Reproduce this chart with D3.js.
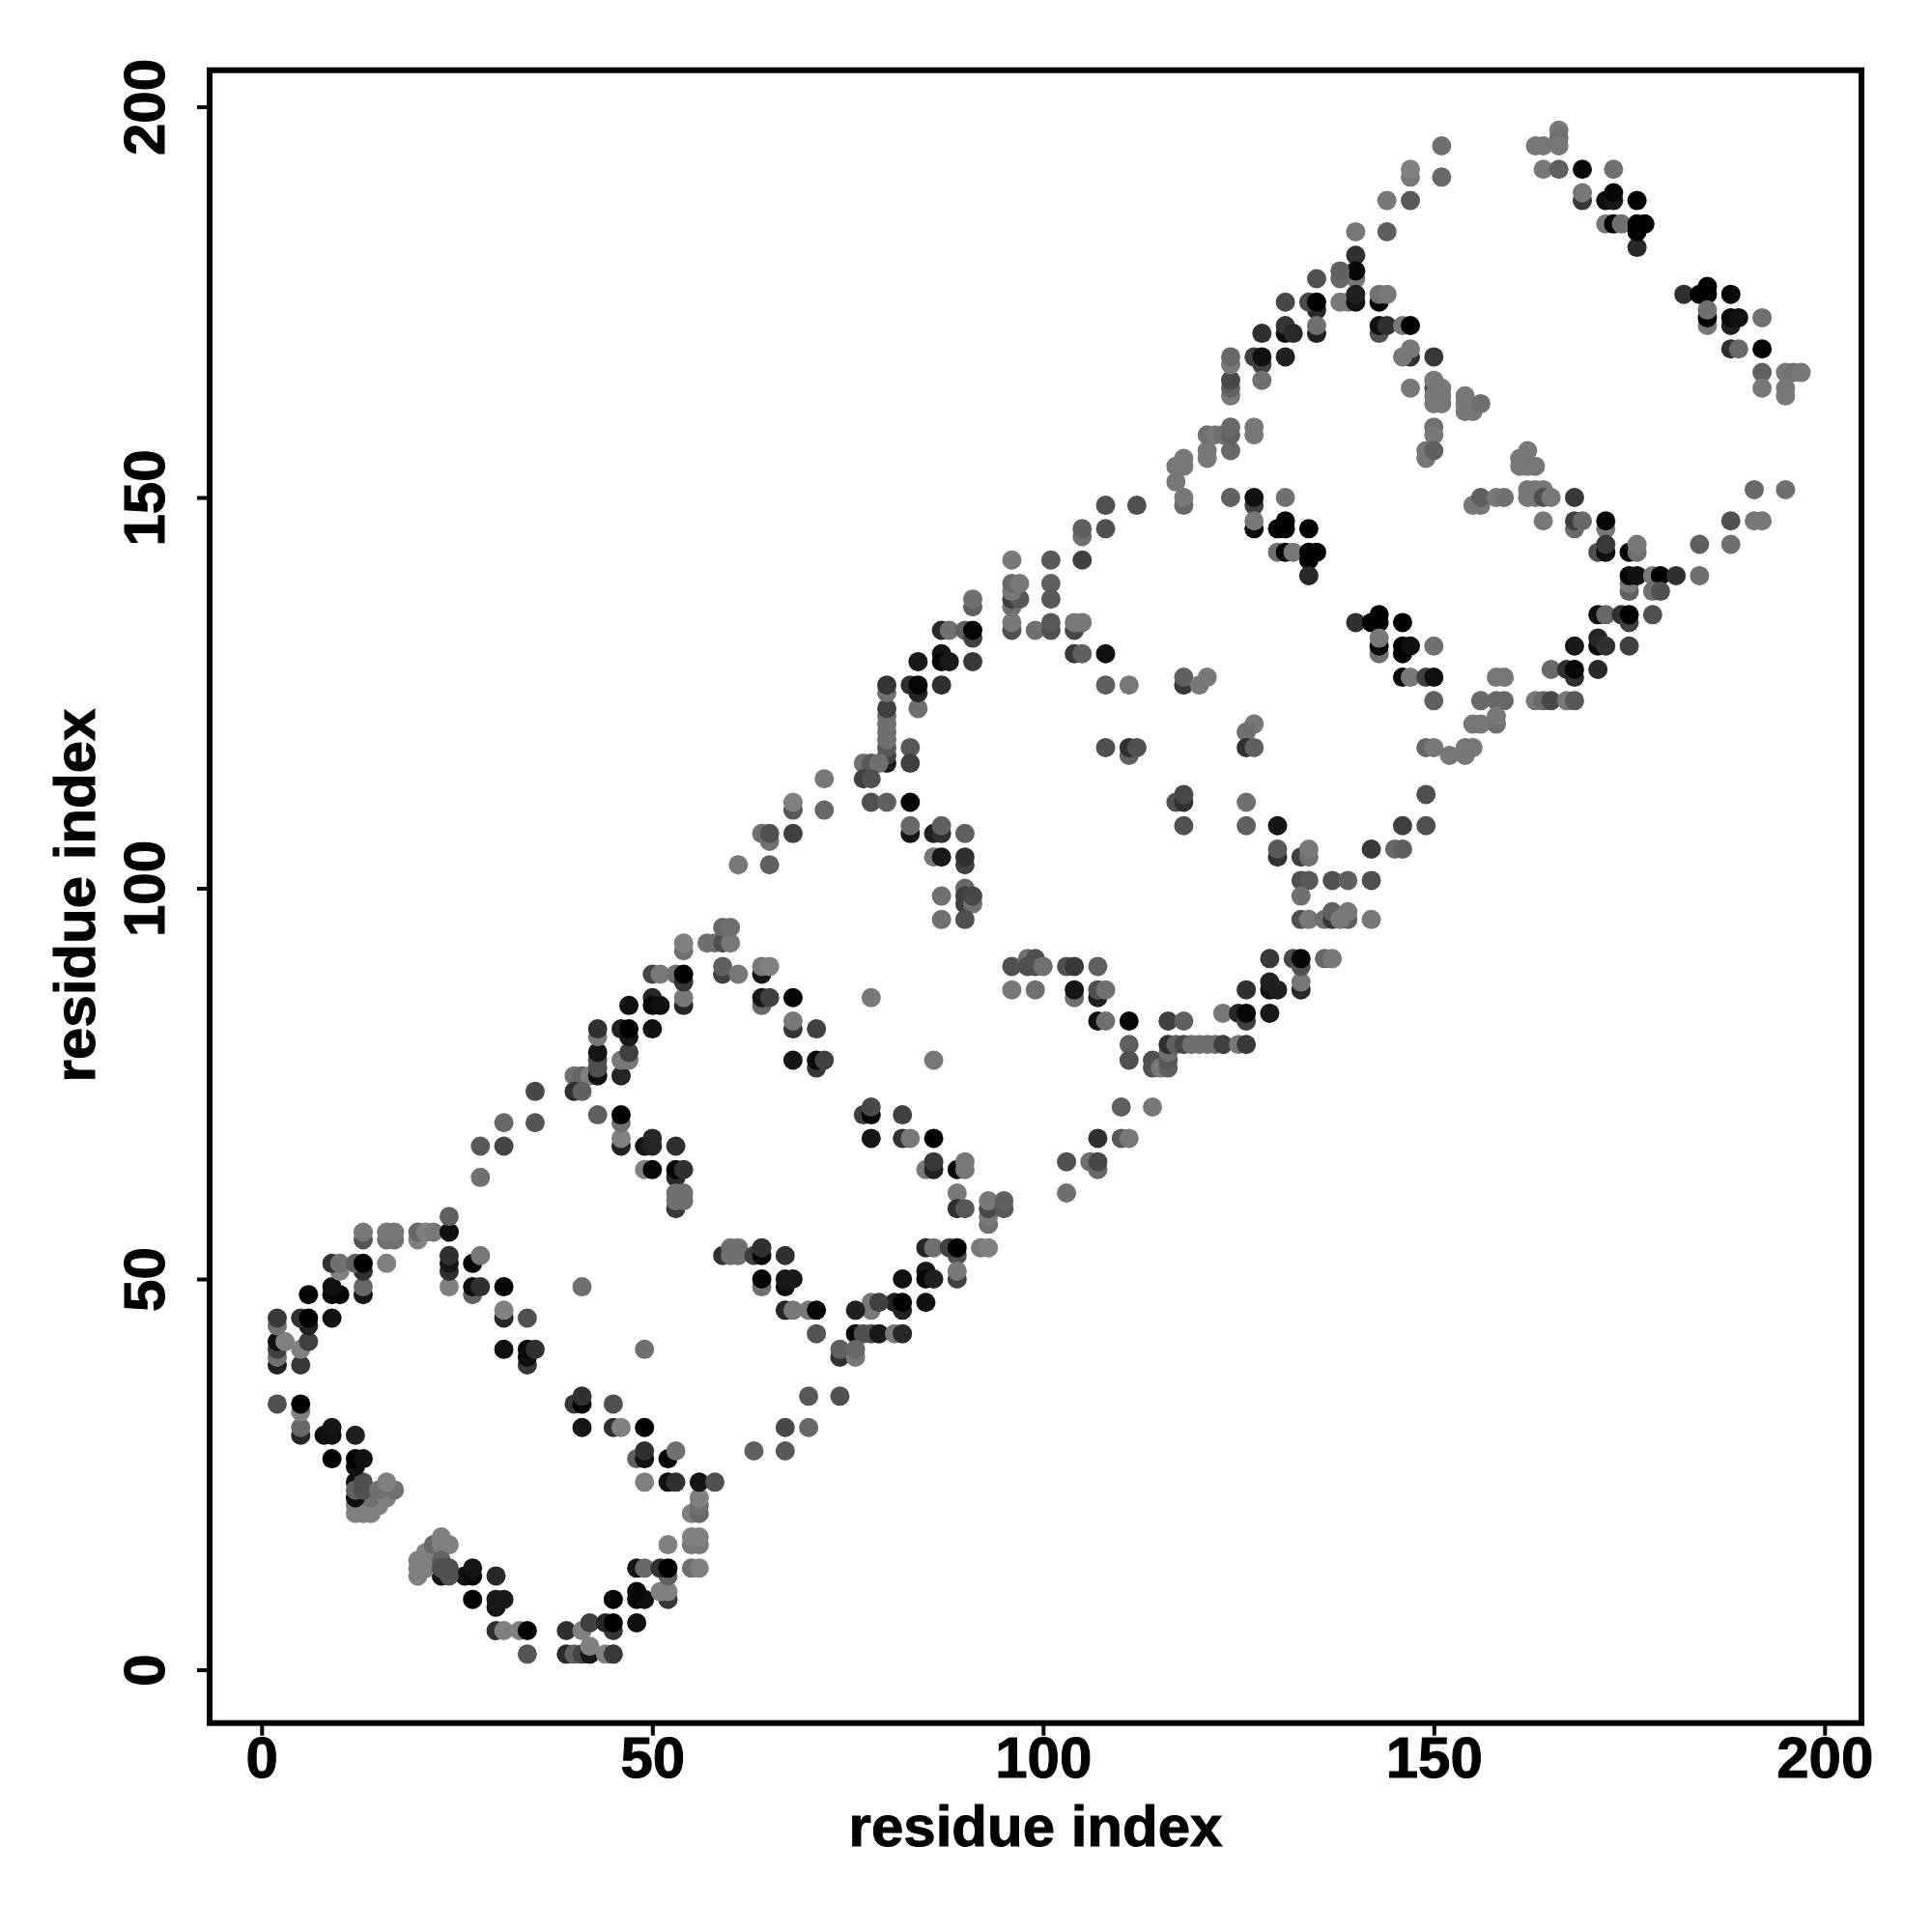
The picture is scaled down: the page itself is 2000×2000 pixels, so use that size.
<!DOCTYPE html>
<html><head><meta charset="utf-8">
<script src="https://cdn.jsdelivr.net/npm/d3@7/dist/d3.min.js"></script>
<style>html,body{margin:0;padding:0;background:#fff}svg{display:block}text{font-family:"Liberation Sans",Arial,sans-serif;font-weight:700;fill:#000;stroke:#000;stroke-width:1px}</style>
</head><body><svg id="c" width="2000" height="2000"></svg>
<script>
const xTicks=[0,50,100,150,200];
const yTicks=[0,50,100,150,200];
const xLabel="residue index";
const yLabel="residue index";
// each contact: [residue i, residue j, grey level]
const contactsA=[
[34,2,0x55],[39,2,0x2a],[40,2,0x60],[41,2,0x44],[42,2,0x18],[44,2,0x80],[45,2,0x38],[42,3,0x80],
[30,5,0x30],[31,5,0x80],[33,5,0x80],[34,5,0x05],[39,5,0x30],[41,5,0x80],[45,5,0x35],[42,6,0x40],[44,6,0x25],[45,6,0x00],[48,6,0x10],
[30,8,0x15],[30,9,0x18],[31,9,0x18],[27,9,0x00],[45,9,0x05],[52,9,0x38],[48,9,0x05],[49,9,0x10],[48,10,0x08],[51,10,0x80],[52,10,0x80],
[26,12,0x10],[27,12,0x08],[30,12,0x28],[52,12,0x60],[23,12,0x10],[24,12,0x50],[27,13,0x15],
[20,12,0x80],[20,13,0x80],[21,13,0x80],[20,14,0x80],[21,14,0x80],[21,15,0x80],[22,15,0x80],[22,16,0x68],[23,17,0x80],[23,16,0x80],[24,16,0x80],[23,14,0x60],[23,13,0x50],[24,13,0x50],
[48,13,0x15],[49,13,0x68],[51,13,0x30],[52,13,0x00],[55,13,0x70],[56,13,0x80],
[52,16,0x80],[55,16,0x78],[56,16,0x78],[55,17,0x80],[56,17,0x80],
[55,20,0x80],[56,20,0x68],[56,21,0x70],[56,22,0x80],
[12,24,0x10],[12,20,0x80],[13,20,0x80],[14,20,0x80],[12,21,0x80],[13,21,0x80],[15,21,0x80],[14,22,0x70],[16,22,0x80],[12,22,0x10],[12,23,0x60],[13,23,0x50],[13,24,0x50],[15,23,0x70],[17,23,0x70],[16,24,0x80],
[49,24,0x80],[52,24,0x10],[53,24,0x30],[56,24,0x15],[58,24,0x50],
[9,27,0x00],[12,26,0x10],[12,27,0x00],[13,27,0x10],[48,27,0x60],[49,27,0x10],[52,27,0x05],[49,28,0x30],[53,28,0x70],[63,28,0x60],[67,28,0x58],
[5,30,0x25],[8,30,0x10],[9,30,0x10],[12,30,0x20],[5,31,0x68],[9,31,0x15],[41,31,0x15],[45,31,0x30],[46,31,0x80],[49,31,0x00],[67,31,0x48],[70,31,0x68],
[5,33,0x80],[2,34,0x50],[5,34,0x00],[40,34,0x38],[41,34,0x00],[45,34,0x50],[41,35,0x30],[70,35,0x58],[74,35,0x50],
[2,39,0x20],[5,39,0x38],[34,39,0x38],[2,40,0x70],[34,40,0x10],[2,41,0x40],[5,41,0x80],[31,41,0x10],[34,41,0x08],[35,41,0x30],[49,41,0x70],
[2,42,0x10],[3,42,0x80],[6,42,0x40],[6,44,0x20],[2,44,0x70],[2,45,0x38],[5,45,0x30],[6,45,0x00],[9,45,0x10],[31,45,0x25],[34,45,0x50],[31,46,0x80],
[6,48,0x08],[9,48,0x08],[10,48,0x08],[13,48,0x15],[27,48,0x60],[9,49,0x10],[13,49,0x68],[24,49,0x80],[27,49,0x10],[28,49,0x30],[31,49,0x05],[41,49,0x70],
[13,51,0x30],[10,51,0x80],[9,52,0x30],[10,52,0x70],[12,52,0x60],[13,52,0x00],[16,52,0x80],[24,51,0x30],[24,52,0x18],[27,52,0x08],[24,53,0x30],[28,53,0x78],
[13,55,0x55],[16,55,0x70],[17,55,0x70],[20,55,0x80],[13,56,0x78],[16,56,0x78],[17,56,0x78],[20,56,0x68],[21,56,0x80],[22,56,0x78],[24,56,0x10],[24,58,0x60],
[28,63,0x70],[28,67,0x58],[31,67,0x45],[31,70,0x68],[35,70,0x55],[35,74,0x48]
];
const contactsB=[
[46,67,0x20],[49,67,0x18],[50,68,0x28],[50,67,0x25],[53,67,0x30],[46,68,0x80],[46,70,0x70],[43,71,0x60],[46,71,0x00],
[49,64,0x80],[50,64,0x05],[53,63,0x28],[53,64,0x05],[54,64,0x30],[53,59,0x38],[53,60,0x70],[54,60,0x70],[53,61,0x70],[54,61,0x70],
[40,76,0x70],[41,76,0x65],[42,76,0x80],[40,74,0x30],[41,74,0x60],[43,76,0x10],[43,77,0x50],[43,78,0x50],[43,79,0x15],[46,76,0x25],[46,78,0x78],[47,78,0x78],[47,79,0x40],
[43,81,0x78],[43,82,0x30],[46,82,0x20],[47,81,0x18],[47,82,0x00],[50,82,0x10],
[47,85,0x10],[50,86,0x28],[50,85,0x08],[51,85,0x10],[54,85,0x25],[54,86,0x78],
[50,89,0x45],[51,89,0x78],[53,89,0x70],[54,88,0x35],[54,89,0x00],[54,92,0x70],[54,93,0x80],[57,93,0x70],[58,93,0x70],[59,93,0x50],[60,93,0x78],[59,95,0x68],[60,95,0x70],
[59,89,0x40],[59,90,0x60],[61,89,0x78],[64,89,0x15],[64,90,0x78],[65,90,0x80],
[64,85,0x68],[64,86,0x18],[65,86,0x40],[68,86,0x05],[68,82,0x35],[68,83,0x78],[71,82,0x40],[68,78,0x15],[71,77,0x38],[71,78,0x05],[72,78,0x40],[78,86,0x78],[86,78,0x78],
[77,71,0x40],[78,71,0x08],[78,72,0x48],[82,71,0x40],[78,68,0x15],[82,68,0x30],[83,68,0x78],[86,68,0x00],
[85,64,0x78],[86,64,0x20],[86,65,0x38],[89,64,0x08],[90,64,0x78],[90,65,0x78],
[89,61,0x78],[89,59,0x30],[90,59,0x58],[93,57,0x70],[93,58,0x78],[93,59,0x48],[93,60,0x78],[95,59,0x58],[95,60,0x60],
[89,53,0x50],[85,54,0x25],[86,54,0x70],[88,54,0x40],[89,54,0x00],[92,54,0x78],[93,54,0x80],
[89,50,0x40],[89,51,0x78],[85,51,0x18],[85,50,0x08],[86,50,0x20],[82,50,0x10],
[82,46,0x20],[81,47,0x20],[82,47,0x00],[85,47,0x10],[78,46,0x78],[78,47,0x78],[79,47,0x40],[76,46,0x20],
[67,46,0x25],[68,46,0x78],[70,46,0x78],[71,46,0x05],[71,43,0x55],[76,43,0x08],[77,43,0x50],[78,43,0x50],[79,43,0x18],[81,43,0x78],[82,43,0x28],
[74,40,0x30],[74,41,0x60],[76,40,0x78],[76,41,0x68],
[59,53,0x30],[60,54,0x70],[61,54,0x70],[60,53,0x70],[61,53,0x70],[63,53,0x40],[64,53,0x08],[64,54,0x30],[67,53,0x30],
[64,49,0x70],[64,50,0x05],[67,49,0x10],[67,50,0x18],[68,50,0x18],
[61,103,0x78],[65,103,0x60],[64,107,0x70],[65,106,0x70],[65,107,0x50],[68,107,0x40],[68,110,0x58],[68,111,0x80],[72,110,0x68],[72,114,0x78],
[78,111,0x50],[80,111,0x60],[83,111,0x05],[83,107,0x15],[83,108,0x68],[86,107,0x20],[87,107,0x30],[87,108,0x60],[90,107,0x60],
[86,104,0x78],[87,104,0x18],[90,103,0x40],[90,104,0x30],
[87,99,0x70],[90,100,0x68],[90,99,0x40],[90,98,0x40],[91,98,0x70],[91,99,0x48],[87,96,0x70],[90,96,0x50],
[96,90,0x50],[96,87,0x78],[98,91,0x70],[99,91,0x50],[98,90,0x50],[99,90,0x50],[100,90,0x70],[99,87,0x70]
];
const contactsC=[
[103,90,0x50],[104,90,0x38],[107,90,0x60],[104,86,0x70],[104,87,0x15],[107,86,0x20],[107,87,0x50],[108,87,0x70],
[107,83,0x10],[108,83,0x70],[111,83,0x05],[116,83,0x40],[118,83,0x60],
[103,61,0x70],[103,65,0x50],[106,65,0x70],[107,64,0x68],[107,65,0x48],[107,68,0x30],[110,68,0x58],[111,68,0x78],[110,72,0x60],[114,72,0x78],
[111,80,0x60],[111,78,0x50],[114,78,0x50],[114,77,0x50],[115,77,0x78],[116,77,0x60],[116,78,0x58],[116,79,0x70],
[116,80,0x30],[117,80,0x60],[118,80,0x48],[119,80,0x70],[120,80,0x70],[121,80,0x70],[122,80,0x70],[123,80,0x40],[125,80,0x78],[126,80,0x38],
[123,84,0x78],[125,84,0x25],[126,83,0x40],[126,84,0x08],[129,84,0x18],
[126,87,0x30],[129,87,0x10],[129,88,0x20],[130,87,0x20],[133,87,0x28],[133,88,0x78],
[129,91,0x38],[132,91,0x48],[133,90,0x50],[133,91,0x08],[136,91,0x68],[137,91,0x78],
[80,116,0x15],[80,117,0x40],[80,118,0x58],[80,119,0x70],[80,120,0x70],[80,121,0x70],[80,122,0x70],[80,123,0x40],[80,125,0x70],[80,126,0x35],
[77,116,0x70],[78,116,0x58],[79,116,0x70],[77,114,0x40],[78,114,0x50],
[83,118,0x58],[83,116,0x40],[84,123,0x70],[83,126,0x30],[84,125,0x25],[84,126,0x05],[87,126,0x30],
[84,129,0x18],[87,130,0x15],[87,129,0x08],[88,129,0x18],[91,129,0x38],
[87,133,0x28],[88,133,0x70],[90,133,0x60],[91,132,0x40],[91,133,0x05],[91,136,0x60],[91,137,0x70],
[96,142,0x78],[101,142,0x58],[105,142,0x40],[105,145,0x70],[105,146,0x60],[108,146,0x50],[108,149,0x50],[112,149,0x50],
[118,149,0x68],[118,150,0x78],[117,152,0x78],[117,154,0x78],[118,154,0x78],[118,155,0x78],[121,155,0x78],[121,156,0x78],
[121,158,0x70],[122,158,0x78],[123,158,0x70],[124,156,0x68],[124,158,0x60],[124,159,0x68],[127,158,0x78],[127,159,0x78],
[124,163,0x78],[124,164,0x60],[124,165,0x48],[124,167,0x78],[124,168,0x68],[127,168,0x40],
[96,136,0x70],[96,137,0x40],[97,137,0x58],[96,138,0x78],[96,139,0x68],[97,139,0x78],[101,139,0x60],[101,137,0x58],
[96,133,0x50],[96,134,0x78],[99,133,0x70],[101,133,0x50],[101,134,0x58],[104,133,0x48],[104,134,0x78],[105,134,0x78],
[104,130,0x38],[105,130,0x60],[108,130,0x10],[108,126,0x60],[111,126,0x78],
[108,118,0x50],[111,117,0x60],[111,118,0x30],[112,118,0x50],
[118,126,0x38],[118,127,0x60],[120,126,0x78],[121,127,0x78],
[127,121,0x78],[126,120,0x70],[126,118,0x30],[127,118,0x60],
[117,111,0x50],[118,111,0x30],[118,112,0x48],[118,108,0x50],[126,111,0x70],[126,108,0x60],[130,108,0x15],
[130,104,0x30],[130,105,0x58],[133,104,0x40],[134,104,0x70],[134,105,0x78],
[133,101,0x50],[134,101,0x58],[137,101,0x50],[139,101,0x60],[142,101,0x50],[133,99,0x70],
[133,96,0x50],[134,96,0x78],[136,96,0x70],[137,96,0x38],[139,96,0x60],[137,97,0x60],[138,96,0x78],[139,97,0x78],[142,96,0x78],
[142,105,0x38],[145,105,0x68],[146,105,0x60],[146,108,0x40],[149,108,0x50],[149,112,0x50],
[124,150,0x60],[127,149,0x40],[127,150,0x10],[131,150,0x70],[127,146,0x08],[127,147,0x78],[130,146,0x00],[131,146,0x00],[131,147,0x00],[134,146,0x00],
[130,143,0x70],[131,143,0x05],[132,143,0x78],[134,143,0x00],[135,143,0x00],[134,142,0x00],[134,140,0x28]
];
const contactsD=[
[151,195,0x70],[151,191,0x68],[147,191,0x78],[147,192,0x80],[144,188,0x78],[147,188,0x58],[140,184,0x78],[144,184,0x60],
[140,178,0x78],[140,181,0x30],[140,179,0x08],[138,178,0x68],[138,179,0x60],[135,178,0x50],
[138,175,0x78],[139,175,0x78],[140,175,0x10],[140,176,0x20],[135,174,0x28],[134,175,0x48],[135,175,0x00],[131,175,0x48],[143,175,0x00],[143,176,0x70],[144,176,0x78],
[131,171,0x08],[131,172,0x35],[132,171,0x28],[135,171,0x20],[135,172,0x70],[128,171,0x30],
[143,171,0x50],[143,172,0x10],[144,172,0x30],[146,172,0x78],[147,172,0x00],
[147,168,0x30],[147,169,0x78],[146,168,0x78],[150,168,0x38],[131,168,0x20],[128,167,0x40],[128,168,0x10],[128,165,0x70],
[147,164,0x78],[150,164,0x50],[150,165,0x78],[151,164,0x78],[150,163,0x78],[151,163,0x78],[150,162,0x78],[151,162,0x78],[154,163,0x78],[154,162,0x78],[154,161,0x78],[155,161,0x78],[156,162,0x70],
[150,159,0x70],[150,158,0x78],[149,155,0x78],[149,156,0x78],[150,156,0x60],
[162,156,0x78],[161,155,0x78],[161,154,0x78],[162,154,0x78],[163,154,0x78],
[155,149,0x78],[156,149,0x78],[156,150,0x60],[158,150,0x78],[159,150,0x70],
[162,151,0x78],[163,151,0x78],[164,151,0x78],[162,150,0x78],[163,150,0x78],[164,150,0x50],[165,150,0x78],[168,150,0x38],
[164,147,0x78],[168,146,0x68],[168,147,0x40],[169,147,0x68],[172,146,0x78],[172,147,0x05],[171,143,0x50],[172,143,0x10],[172,144,0x38],[175,143,0x05],[176,143,0x70],[176,144,0x78],
[175,138,0x60],[175,139,0x78],[175,140,0x05],[176,140,0x10],[178,140,0x78],[179,140,0x00],[181,140,0x30],[184,140,0x70],[178,138,0x70],[179,138,0x50],
[171,135,0x10],[172,135,0x68],[174,135,0x30],[175,134,0x40],[175,135,0x00],[178,135,0x50],
[168,131,0x18],[171,131,0x08],[171,132,0x25],[172,131,0x30],[175,131,0x40],
[165,128,0x68],[167,128,0x30],[168,127,0x30],[168,128,0x08],[171,128,0x28],[158,127,0x78],[159,127,0x78],
[166,197,0x78],[166,196,0x70],[163,195,0x78],[164,195,0x78],[166,195,0x78],[164,192,0x78],[166,192,0x60],[169,192,0x08],[173,192,0x70],
[169,188,0x38],[169,189,0x78],[172,188,0x10],[173,188,0x18],[173,189,0x08],[176,188,0x00],
[172,185,0x78],[173,185,0x00],[174,185,0x70],[176,182,0x28],[176,184,0x00],[176,185,0x00],[177,185,0x00],
[182,176,0x30],[184,176,0x00],[185,176,0x00],[185,177,0x00],[188,176,0x08],
[185,172,0x78],[185,173,0x00],[185,174,0x70],[188,172,0x20],[188,173,0x08],[189,173,0x10],[192,173,0x70],
[188,169,0x30],[189,169,0x68],[192,169,0x00],[192,166,0x60],[195,166,0x78],[196,166,0x70],[197,166,0x78],[192,164,0x78],[195,163,0x78],[195,164,0x78],
[191,151,0x68],[195,151,0x70],[188,147,0x50],[191,147,0x78],[192,147,0x78],[184,144,0x60],[188,144,0x70],
[140,134,0x30],[142,134,0x00],[143,135,0x00],[143,134,0x00],[146,134,0x00],
[143,130,0x70],[143,131,0x08],[143,132,0x78],[146,130,0x00],[146,131,0x00],[147,131,0x10],[150,131,0x70],
[146,127,0x08],[147,127,0x78],[149,127,0x40],[150,127,0x10],[150,124,0x60],
[156,124,0x68],[158,124,0x68],[159,124,0x68],[163,124,0x78],[164,124,0x68],[165,124,0x48],[167,124,0x78],[168,124,0x58],
[158,121,0x70],[158,122,0x78],[155,121,0x78],[156,121,0x78],
[149,118,0x68],[150,118,0x78],[152,117,0x78],[154,117,0x78],[154,118,0x78],[155,118,0x78]
];
const contacts=[...contactsA,...contactsB,...contactsC,...contactsD];

const svg=d3.select("#c");
const frame={left:217,right:1927,top:72.7,bottom:1783.7};
const x=d3.scaleLinear().domain([0,200]).range([270.8,1888.8]);
const y=d3.scaleLinear().domain([0,200]).range([1728.5,110.5]);

svg.append("rect").attr("width",2000).attr("height",2000).attr("fill","#fff");
svg.append("g").selectAll("circle").data(contacts).join("circle")
  .attr("cx",d=>x(d[0])).attr("cy",d=>y(d[1])).attr("r",10)
  .attr("fill",d=>d3.rgb(d[2],d[2],d[2]).formatHex());

const gx=svg.append("g").attr("transform",`translate(0,${frame.bottom})`)
  .call(d3.axisBottom(x).tickValues(xTicks).tickSize(13).tickFormat(d3.format("d")));
gx.select(".domain").remove();
gx.selectAll("line").attr("stroke","#000").attr("stroke-width",4);
gx.selectAll("text").attr("y",56).attr("dy",0).attr("font-size",60).attr("text-anchor","middle");

const gy=svg.append("g").attr("transform",`translate(${frame.left},0)`)
  .call(d3.axisLeft(y).tickValues(yTicks).tickSize(13).tickFormat(d3.format("d")));
gy.select(".domain").remove();
gy.selectAll("line").attr("stroke","#000").attr("stroke-width",4);
gy.selectAll("text").attr("x",0).attr("y",0).attr("dy",0).attr("font-size",60)
  .attr("text-anchor","middle").attr("transform","translate(-47,0) rotate(-90)");

svg.append("rect").attr("x",frame.left).attr("y",frame.top)
  .attr("width",frame.right-frame.left).attr("height",frame.bottom-frame.top)
  .attr("fill","none").attr("stroke","#000").attr("stroke-width",6);

svg.append("text").attr("x",1072).attr("y",1911).attr("text-anchor","middle").attr("font-size",60).text(xLabel);
svg.append("text").attr("transform","translate(98,927) rotate(-90)").attr("text-anchor","middle").attr("font-size",60).text(yLabel);
</script></body></html>
